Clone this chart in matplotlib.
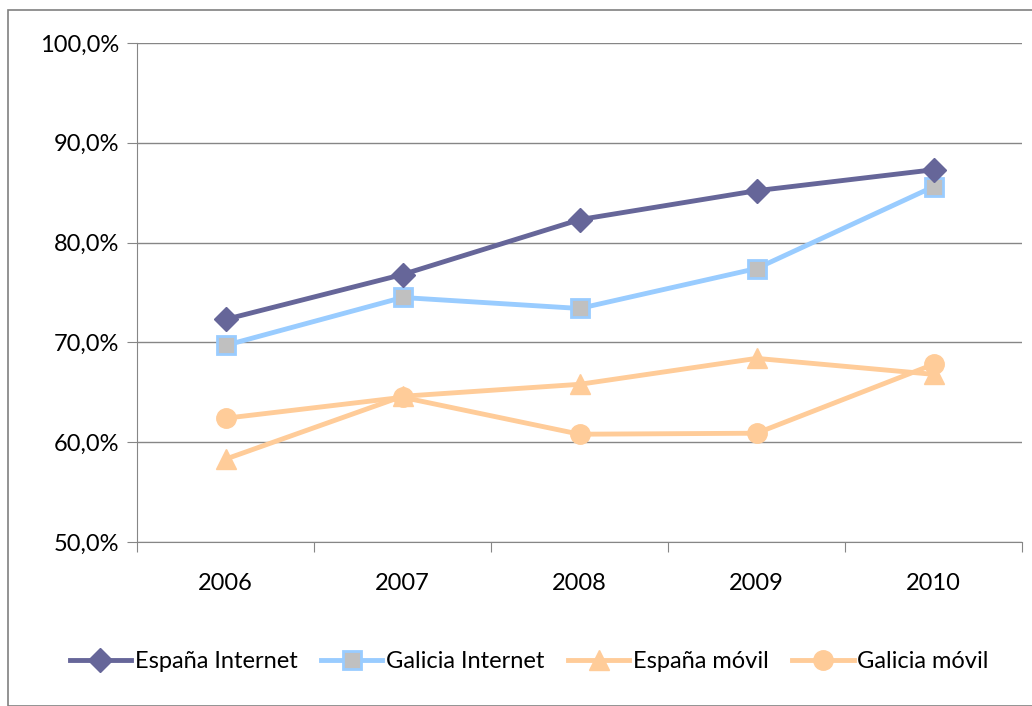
import matplotlib
matplotlib.use("Agg")
import matplotlib.pyplot as plt
from matplotlib.patches import Rectangle

years = ["2006", "2007", "2008", "2009", "2010"]
espana_internet = [72.3, 76.8, 82.3, 85.2, 87.3]
galicia_internet = [69.7, 74.5, 73.4, 77.4, 85.6]
espana_movil = [58.3, 64.6, 65.8, 68.4, 66.8]
galicia_movil = [62.4, 64.5, 60.8, 60.9, 67.8]
yticks = [50, 60, 70, 80, 90, 100]

plt.rcParams['font.family'] = ['Lato', 'DejaVu Sans']

fig = plt.figure(figsize=(10.32, 7.06), dpi=100)
fig.patches.append(Rectangle((8/1032, 0), 1.5, 1 - 10/706, transform=fig.transFigure,
                             fill=False, edgecolor='#808080', linewidth=1.2))
ax = fig.add_axes([137/1032, 1 - 542/706, (1022 - 137)/1032, (542 - 43)/706])

x = list(range(len(years)))
lw = 3.5
ax.plot(x, espana_internet, color='#666699', lw=lw, marker='D', ms=12,
        mfc='#666699', mec='#666699', label='España Internet', zorder=4)
ax.plot(x, galicia_internet, color='#99CCFF', lw=lw, marker='s', ms=13,
        mfc='#C0C0C0', mec='#99CCFF', mew=2, label='Galicia Internet', zorder=3)
ax.plot(x, espana_movil, color='#FFCC99', lw=lw, marker='^', ms=14,
        mfc='#FFCC99', mec='#FFCC99', label='España móvil', zorder=2)
ax.plot(x, galicia_movil, color='#FFCC99', lw=lw, marker='o', ms=14,
        mfc='#FFCC99', mec='#FFCC99', label='Galicia móvil', zorder=2)

fs = 17
ax.set_xlim(-0.5, len(years) - 0.5)
ax.set_ylim(50, 100)
ax.set_yticks(yticks)
ax.set_yticklabels([f"{v:.1f}%".replace('.', ',') for v in yticks], fontsize=fs)
ax.yaxis.grid(True, color='#868686', lw=1)
ax.set_axisbelow(True)

ax.set_xticks([i - 0.5 for i in range(len(years) + 1)])
ax.set_xticklabels([])
ax.set_xticks(x, minor=True)
ax.set_xticklabels(years, minor=True, fontsize=fs)
ax.tick_params(axis='x', which='minor', length=0, pad=22)
ax.tick_params(axis='x', which='major', length=7, color='#868686', direction='out')
ax.tick_params(axis='y', length=7, color='#868686', direction='out', pad=6)

for s in ['top', 'right']:
    ax.spines[s].set_visible(False)
for s in ['left', 'bottom']:
    ax.spines[s].set_color('#868686')

ax.legend(loc='center', bbox_to_anchor=(0.443, -0.24), ncol=4, frameon=False,
          fontsize=fs, handlelength=2.6, handletextpad=0.15, columnspacing=1.0)

fig.savefig('out.png', dpi=100)
